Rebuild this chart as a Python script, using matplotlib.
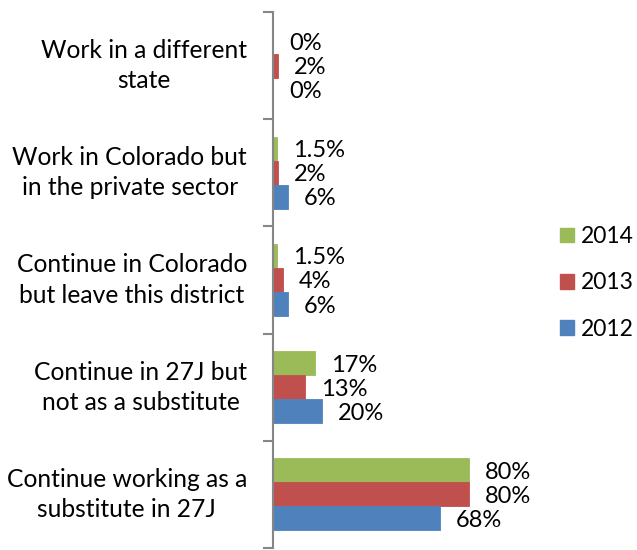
import numpy as np
import matplotlib
matplotlib.use("Agg")
import matplotlib.pyplot as plt
from matplotlib.patches import Patch

plt.rcParams['font.family'] = ['Lato', 'DejaVu Sans']

# survey answers, listed top to bottom
categories = [
    "Work in a different\nstate",
    "Work in Colorado but\nin the private sector",
    "Continue in Colorado\nbut leave this district",
    "Continue in 27J but\nnot as a substitute",
    "Continue working as a\nsubstitute in 27J",
]
years = ["2014", "2013", "2012"]
pct_2014 = [0, 1.5, 1.5, 17, 80]
pct_2013 = [2, 2, 4, 13, 80]
pct_2012 = [0, 6, 6, 20, 68]
colors = ["#9BBB59", "#C0504D", "#4F81BD"]

series = [pct_2014, pct_2013, pct_2012]
n = len(categories)
ypos = np.arange(n)[::-1]
bar_h = 0.224

fig = plt.figure(figsize=(6.37, 5.5), dpi=100)
ax = fig.add_axes([273 / 637, 2 / 550, 245 / 637, 536 / 550])

for k, (vals, col) in enumerate(zip(series, colors)):
    yy = ypos + (1 - k) * bar_h
    ax.barh(yy, vals, height=bar_h, color=col, edgecolor=col, linewidth=0.6)
    for y, v in zip(yy, vals):
        ax.annotate(f"{v:g}%", xy=(v, y), xytext=(16, -2), textcoords="offset pixels",
                    ha="left", va="center", fontsize=17, annotation_clip=False)

for y, lab in zip(ypos, categories):
    ax.annotate(lab, xy=(0, y), xycoords=("axes fraction", "data"), xytext=(-26, 0),
                textcoords="offset pixels", ha="right", va="center",
                multialignment="center", fontsize=17.7, linespacing=1.38)

ax.set_xlim(0, 100)
ax.set_ylim(-0.5, n - 0.5)
ax.set_yticks(np.arange(n + 1) - 0.5)
ax.set_yticklabels([])
ax.tick_params(axis="y", direction="out", length=7, width=1.5, color="#868686")
ax.set_xticks([])
for side in ["top", "right", "bottom"]:
    ax.spines[side].set_visible(False)
ax.spines["left"].set_color("#868686")
ax.spines["left"].set_linewidth(1.5)

handles = [Patch(facecolor=c, edgecolor=c) for c in colors]
fig.legend(handles, years, loc="center left", bbox_to_anchor=(560 / 637, 1 - 283 / 550),
           frameon=False, fontsize=16.5, handlelength=0.6, handleheight=0.6,
           handletextpad=0.3, labelspacing=1.1, borderpad=0, borderaxespad=0)

fig.savefig("out.png", dpi=100)
